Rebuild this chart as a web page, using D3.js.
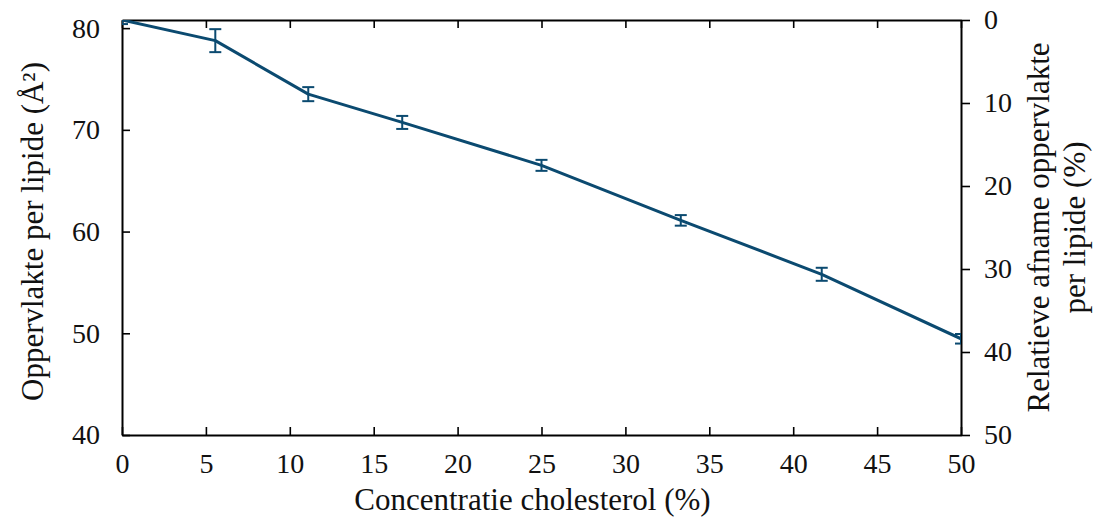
<!DOCTYPE html>
<html>
<head>
<meta charset="utf-8">
<script src="https://cdn.jsdelivr.net/npm/d3@7"></script>
<style>
  body { margin: 0; background: #fff; }
</style>
</head>
<body>
<svg id="chart" width="1099" height="519"></svg>
<script>
// Data
const cholesterol = [0, 5.56, 11.1, 16.7, 25, 33.3, 41.7, 50];
const areaPerLipid = [80.8, 78.77, 73.51, 70.73, 66.51, 61.1, 55.8, 49.46];
const areaError = [0.4, 1.13, 0.69, 0.64, 0.54, 0.52, 0.64, 0.47];
const xTicks = [0, 5, 10, 15, 20, 25, 30, 35, 40, 45, 50];
const leftTicks = [40, 50, 60, 70, 80];
const rightTicks = [0, 10, 20, 30, 40, 50];

const xTitle = "Concentratie cholesterol (%)";
const leftTitle = "Oppervlakte per lipide (Å²)";
const rightTitle = ["Relatieve afname oppervlakte", "per lipide (%)"];

const svg = d3.select("#chart");
const L = 122, R = 961, T = 20, B = 435;
const color = "#0b4a70";
const fs = 28, fsTitle = 31;
const ff = "'Liberation Serif', 'DejaVu Serif', serif";

const x = d3.scaleLinear().domain([0, 50]).range([L, R]);
const yL = d3.scaleLinear().domain([40, 80.8]).range([B, T]);
const yR = d3.scaleLinear().domain([0, 50]).range([T, B]);

svg.append("defs").append("clipPath").attr("id", "clip")
  .append("rect").attr("x", L).attr("y", T).attr("width", R - L).attr("height", B - T);

function styleAxis(g) {
  g.attr("font-family", null).attr("font-size", null);
  g.selectAll(".domain").attr("stroke", "#000").attr("stroke-width", 2);
  g.selectAll(".tick line").attr("stroke", "#000").attr("stroke-width", 1.6);
  g.selectAll(".tick text").style("font-size", fs + "px").style("font-family", ff).attr("fill", "#111");
}

const gB = svg.append("g").attr("transform", `translate(0,${B})`)
  .call(d3.axisBottom(x).tickValues(xTicks).tickSizeInner(-8).tickSizeOuter(0).tickPadding(18));
styleAxis(gB);
const gT = svg.append("g").attr("transform", `translate(0,${T})`)
  .call(d3.axisTop(x).tickValues(xTicks).tickSizeInner(-8).tickSizeOuter(0).tickFormat(""));
styleAxis(gT);
const gL = svg.append("g").attr("transform", `translate(${L},0)`)
  .call(d3.axisLeft(yL).tickValues(leftTicks).tickSizeInner(-8).tickSizeOuter(0).tickPadding(22));
styleAxis(gL);
const gR = svg.append("g").attr("transform", `translate(${R},0)`)
  .call(d3.axisRight(yR).tickValues(rightTicks).tickSizeInner(9).tickSizeOuter(0).tickPadding(14));
styleAxis(gR);

const pts = cholesterol.map((c, i) => ({ x: c, y: areaPerLipid[i], e: areaError[i] }));
const plot = svg.append("g").attr("clip-path", "url(#clip)");

plot.append("path").datum(pts)
  .attr("fill", "none").attr("stroke", color).attr("stroke-width", 3)
  .attr("stroke-linejoin", "round")
  .attr("d", d3.line().x(d => x(d.x)).y(d => yL(d.y)));

const eb = plot.selectAll(".eb").data(pts).enter().append("g").attr("class", "eb")
  .attr("stroke", color).attr("stroke-width", 2);
eb.append("line").attr("x1", d => x(d.x)).attr("x2", d => x(d.x))
  .attr("y1", d => yL(d.y - d.e)).attr("y2", d => yL(d.y + d.e));
eb.append("line").attr("x1", d => x(d.x) - 6).attr("x2", d => x(d.x) + 6)
  .attr("y1", d => yL(d.y - d.e)).attr("y2", d => yL(d.y - d.e));
eb.append("line").attr("x1", d => x(d.x) - 6).attr("x2", d => x(d.x) + 6)
  .attr("y1", d => yL(d.y + d.e)).attr("y2", d => yL(d.y + d.e));

function label(sel) { return sel.style("font-size", fsTitle + "px").style("font-family", ff).attr("fill", "#111"); }

label(svg.append("text").attr("x", (L + R) / 2 - 9).attr("y", 510)
  .attr("text-anchor", "middle").text(xTitle));

label(svg.append("text").attr("transform", `translate(43,${(T + B) / 2 + 4}) rotate(-90)`)
  .attr("text-anchor", "middle").text(leftTitle));

rightTitle.forEach((t, i) => {
  label(svg.append("text").attr("transform", `translate(${1049 + i * 36},${(T + B) / 2}) rotate(-90)`)
    .attr("text-anchor", "middle").text(t));
});
</script>
</body>
</html>
